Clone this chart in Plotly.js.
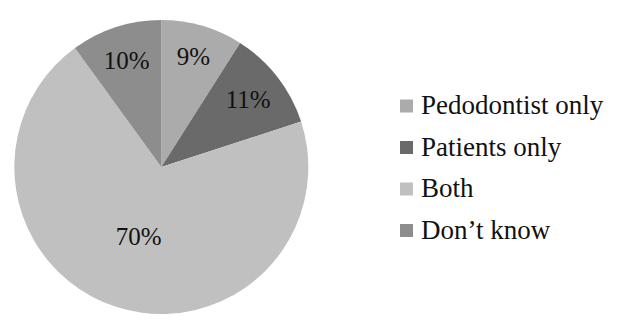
<!DOCTYPE html>
<html>
<head>
<meta charset="utf-8">
<script src="https://cdn.plot.ly/plotly-3.0.1.min.js"></script>
<style>html,body{margin:0;padding:0;background:#fff;}#chart{width:634px;height:322px;}</style>
</head>
<body>
<div id="chart"></div>
<script>
const categories = ["Pedodontist only", "Patients only", "Both", "Don\u2019t know"];
const values = [9, 11, 70, 10];
const colors = ["#ababab", "#6a6a6a", "#c0c0c0", "#8d8d8d"];

const serif = "Liberation Serif, DejaVu Serif, serif";

const W = 634, H = 322;
const M = { l: 10, r: 0, t: 20, b: 8 };
const px = (x) => (x - M.l) / (W - M.l - M.r);
const py = (y) => 1 - (y - M.t) / (H - M.t - M.b);

const trace = {
  type: "pie",
  labels: categories,
  values: values,
  sort: false,
  direction: "clockwise",
  rotation: 0,
  marker: { colors: colors, line: { width: 0 } },
  textinfo: "percent",
  texttemplate: "%{value}%",
  textposition: "inside",
  insidetextorientation: "horizontal",
  insidetextfont: { family: serif, size: 25, color: "#111" },
  showlegend: false,
  hoverinfo: "label+percent",
  domain: { x: [0.0, 0.485], y: [0.0, 1.0] }
};

const annotations = [];
const shapes = [];
const legX = 400, legY0 = 106, legDy = 41.5, sq = 13;
categories.forEach((c, i) => {
  const y = legY0 + i * legDy;
  shapes.push({
    type: "rect", xref: "paper", yref: "paper",
    x0: px(legX), x1: px(legX + sq),
    y0: py(y + sq / 2), y1: py(y - sq / 2),
    fillcolor: colors[i], line: { width: 0 }
  });
  annotations.push({
    xref: "paper", yref: "paper",
    x: px(legX + 19), y: py(y - 1),
    xanchor: "left", yanchor: "middle",
    text: c, showarrow: false,
    font: { family: serif, size: 27, color: "#111" }
  });
});

const layout = {
  width: W, height: H,
  margin: M,
  paper_bgcolor: "#fff",
  showlegend: false,
  annotations: annotations,
  shapes: shapes
};

Plotly.newPlot("chart", [trace], layout, { displayModeBar: false, staticPlot: true });
</script>
</body>
</html>
